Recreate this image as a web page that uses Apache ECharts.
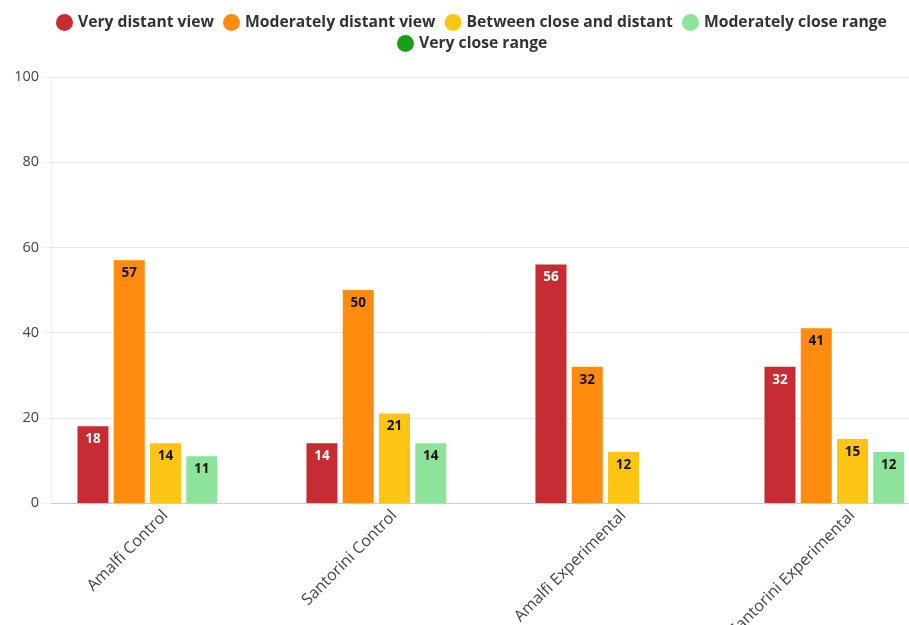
<!DOCTYPE html>
<html>
<head>
<meta charset="utf-8">
<script src="https://cdn.jsdelivr.net/npm/echarts@6/dist/echarts.min.js"></script>
<style>html,body{margin:0;padding:0;background:#fff}#c{width:909px;height:625px}</style>
</head>
<body>
<div id="c"></div>
<script>
var categories = ['Amalfi Control', 'Santorini Control', 'Amalfi Experimental', 'Santorini Experimental'];
var seriesNames = ['Very distant view', 'Moderately distant view', 'Between close and distant', 'Moderately close range', 'Very close range'];
var veryDistant = [18, 14, 56, 32];
var moderatelyDistant = [57, 50, 32, 41];
var betweenCloseDistant = [14, 21, 12, 15];
var moderatelyClose = [11, 14, null, 12];
var veryClose = [null, null, null, null];
var yTicks = [0, 20, 40, 60, 80, 100];

var colors = ['#c62d32', '#ff8c0f', '#ffc515', '#8de39a', '#17a017'];
var labelColors = ['#ffffff', '#111111', '#111111', '#111111', '#111111'];
var dataSets = [veryDistant, moderatelyDistant, betweenCloseDistant, moderatelyClose, veryClose];

var legendText = {fontFamily: 'Open Sans', fontWeight: 'bold', fontSize: 15.7, color: '#333'};
var chart = echarts.init(document.getElementById('c'));
chart.setOption({
  animation: false,
  textStyle: {fontFamily: 'Open Sans'},
  legend: [{
    top: 14,
    left: 56,
    icon: 'circle',
    itemWidth: 17,
    itemHeight: 17,
    itemGap: 9,
    padding: 0,
    textStyle: legendText,
    data: seriesNames.slice(0, 4)
  }, {
    top: 35,
    left: 397,
    icon: 'circle',
    itemWidth: 17,
    itemHeight: 17,
    padding: 0,
    textStyle: legendText,
    data: seriesNames.slice(4)
  }],
  grid: {left: 51, top: 77, width: 916, height: 426, outerBoundsMode: 'none', containLabel: false},
  xAxis: {
    type: 'category',
    data: categories,
    axisLine: {lineStyle: {color: '#cccccc'}},
    axisTick: {alignWithLabel: true, length: 7, lineStyle: {color: '#cccccc'}},
    axisLabel: {rotate: 45, color: '#444', fontSize: 16, margin: 10}
  },
  yAxis: {
    type: 'value',
    min: yTicks[0],
    max: yTicks[yTicks.length - 1],
    interval: 20,
    axisLine: {show: true, lineStyle: {color: '#eeeeee'}},
    axisTick: {show: true, length: 8, lineStyle: {color: '#eeeeee'}},
    axisLabel: {color: '#444', fontSize: 14.5, margin: 12},
    splitLine: {lineStyle: {color: '#e8e8e8'}}
  },
  series: seriesNames.map(function (n, i) {
    return {
      name: n,
      type: 'bar',
      data: dataSets[i],
      barWidth: 31,
      barGap: '17%',
      itemStyle: {color: colors[i]},
      label: {
        show: true,
        position: 'insideTop',
        distance: 6,
        color: labelColors[i],
        fontWeight: 'bold',
        fontSize: 13.5,
        fontFamily: 'Open Sans'
      }
    };
  })
});
</script>
</body>
</html>
